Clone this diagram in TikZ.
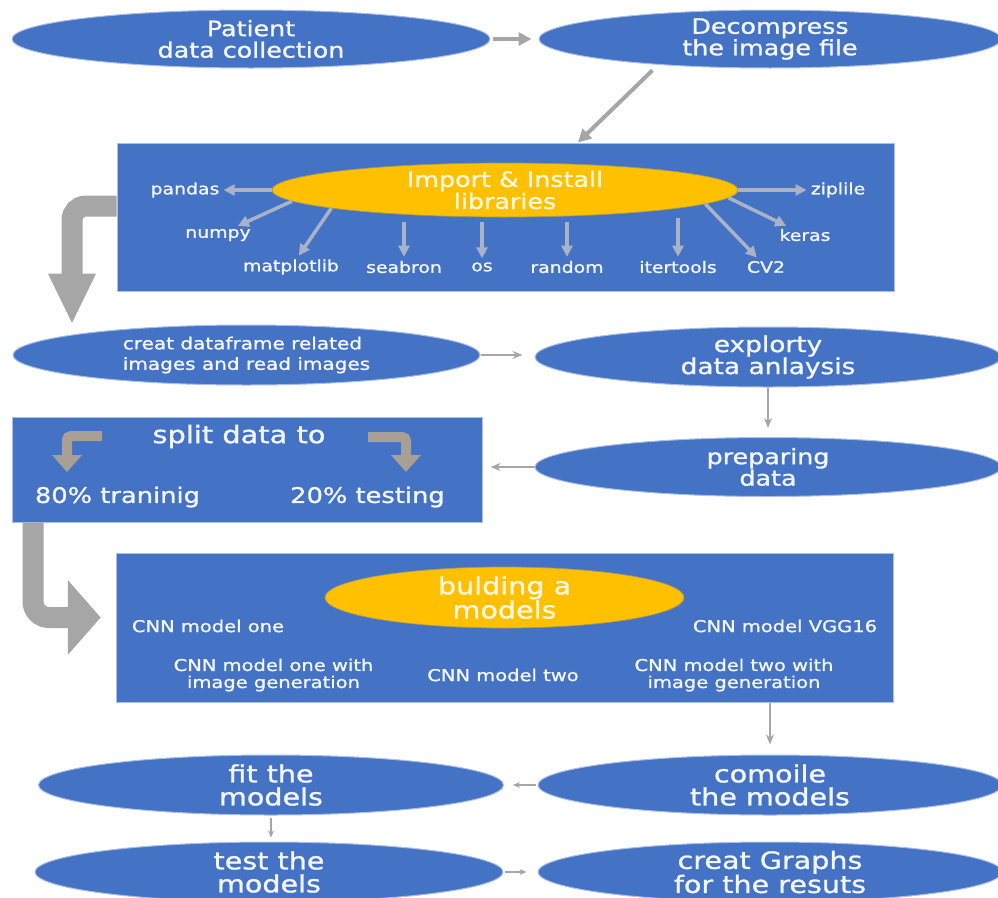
\documentclass[tikz,border=0pt]{standalone}
\usepackage{fontspec}
\setmainfont{DejaVu Sans}[FakeStretch=1.2, FakeBold=1.2, Scale=1.083]
\usetikzlibrary{shapes.geometric,arrows.meta,calc}
\definecolor{boxblue}{HTML}{4472C4}
\definecolor{edgeblue}{HTML}{A9BFE6}
\definecolor{goldy}{HTML}{FFC000}
\definecolor{arrowgray}{HTML}{A6A6A6}
\definecolor{libgray}{HTML}{AAB2C8}
\definecolor{tang}{HTML}{A89F95}
\definecolor{txt}{HTML}{F3F6FC}
\definecolor{ytxt}{HTML}{FFF7E0}
\newcommand{\fs}[2]{\fontsize{#1}{#2}\selectfont}
\begin{document}
\begin{tikzpicture}[x=1pt,y=-1pt,
  blueell/.style={ellipse, fill=boxblue, draw=edgeblue, line width=1pt, inner sep=-6pt, text=txt, align=center},
  yellell/.style={ellipse, fill=goldy, draw=boxblue!50!goldy, line width=0.7pt, inner sep=-6pt, text=ytxt, align=center},
  bluebox/.style={rectangle, fill=boxblue, draw=edgeblue, line width=1pt, inner sep=0pt},
  libtxt/.style={text=txt, inner sep=2pt, font=\fs{14.5}{16}},
  cnntxt/.style={text=txt, inner sep=0pt, align=center, font=\fs{15}{17}},
  plaintxt/.style={text=txt, inner sep=0pt, align=center},
  thinarr/.style={draw=arrowgray, line width=1.6pt, -{Stealth[length=10pt,width=8pt]}},
  smallarr/.style={draw=arrowgray, line width=1.2pt, -{Stealth[length=7pt,width=6pt]}},
  midarr/.style={draw=arrowgray, line width=4.5pt, -{Triangle[length=13pt,width=13pt]}},
  libarr/.style={draw=libgray, line width=3.5pt, shorten >=2pt, -{Triangle[length=11pt,width=11pt]}},
  bigarr/.style={draw=arrowgray, line width=21pt, rounded corners=14pt, -{Triangle[length=51pt,width=44pt]}},
  bigarrb/.style={draw=arrowgray, line width=21pt, rounded corners=16pt, -{Triangle[length=33pt,width=73pt]}},
  tanarr/.style={draw=tang, line width=10pt, rounded corners=4pt, -{Triangle[length=17pt,width=29pt]}},
]
\useasboundingbox (0,0) rectangle (998,897);
\clip (0,0) rectangle (998,897);

% top row
\node[blueell, minimum width=478pt, minimum height=58pt, font=\fs{19.5}{21.5}] (e1) at (251,39) {Patient\\data collection};
\node[blueell, minimum width=462pt, minimum height=58pt, font=\fs{19.5}{21.5}] (e2) at (770,39) {Decompress\\the image file};

% libraries
\node[bluebox, minimum width=777pt, minimum height=148pt] (lib) at (505.5,217) {};
\node[yellell, minimum width=466pt, minimum height=54pt, font=\fs{19.5}{22}] (ylib) at (505,190) {Import \& Install\\libraries};
\node[libtxt] (pandas) at (185,190) {pandas};
\node[libtxt] (numpy) at (218,235) {numpy};
\node[libtxt] (matplotlib) at (291,267) {matplotlib};
\node[libtxt] (seabron) at (404,267) {seabron};
\node[libtxt] (os) at (482,267) {os};
\node[libtxt] (random) at (567,267) {random};
\node[libtxt] (itertools) at (678,267) {itertools};
\node[libtxt] (cv2) at (766,267) {CV2};
\node[libtxt] (keras) at (805,235) {keras};
\node[libtxt] (ziplile) at (838,190) {ziplile};

% middle
\node[blueell, minimum width=467pt, minimum height=60pt, align=left, font=\fs{15.4}{20.5}] (df) at (246.5,355) {creat dataframe related\\images and read images};
\node[blueell, minimum width=466pt, minimum height=60pt, font=\fs{20.3}{22}] (eda) at (768,357) {explorty\\data anlaysis};
\node[blueell, minimum width=466pt, minimum height=59pt, font=\fs{19.5}{21.5}] (prep) at (768,467) {preparing\\data};

% split box
\node[bluebox, minimum width=470pt, minimum height=105pt] (split) at (247,469.5) {};
\node[plaintxt, font=\fs{22.2}{24}] (splitT) at (239,436.5) {split data to};
\node[plaintxt, font=\fs{19.8}{22}] (p80) at (117.5,497) {80\% traninig};
\node[plaintxt, font=\fs{19.8}{22}] (p20) at (367.5,497) {20\% testing};
\coordinate (sa1) at (102,436);
\coordinate (sa2) at (67,472);
\coordinate (sb1) at (368,437);
\coordinate (sb2) at (406,472);

% models box
\node[bluebox, minimum width=777.5pt, minimum height=149pt] (models) at (505,627.5) {};
\node[yellell, minimum width=359pt, minimum height=61pt, font=\fs{22}{21.5}] (ymod) at (504.5,597.5) {bulding a\\models};
\node[cnntxt] (c1) at (208,626) {CNN model one};
\node[cnntxt] (cvgg) at (785,626) {CNN model VGG16};
\node[cnntxt] (c1g) at (273.5,675) {CNN model one with\\image generation};
\node[cnntxt] (c2) at (503,675) {CNN model two};
\node[cnntxt] (c2g) at (734,675) {CNN model two with\\image generation};

% bottom
\node[blueell, minimum width=465pt, minimum height=60pt, font=\fs{22}{23}] (fit) at (271,785) {fit the\\models};
\node[blueell, minimum width=464pt, minimum height=60pt, font=\fs{22}{23}] (comoile) at (770,785) {comoile\\the models};
\node[blueell, minimum width=468pt, minimum height=60pt, font=\fs{22}{23}] (test) at (269,872) {test the\\models};
\node[blueell, minimum width=464pt, minimum height=60pt, font=\fs{22}{23}] (graphs) at (770,872) {creat Graphs\\for the resuts};

% library arrows
\draw[libarr] (ylib.west) -- (pandas);
\draw[libarr] (ylib.183) -- (numpy);
\draw[libarr] (ylib.186) -- (matplotlib);
\draw[libarr] ($(ylib.south -| seabron.north)+(0,5)$) -- (seabron.north);
\draw[libarr] ($(ylib.south -| os.north)+(0,5)$) -- (os.north);
\draw[libarr] ($(ylib.south -| random.north)+(0,5)$) -- (random.north);
\draw[libarr] ($(ylib.south -| itertools.north)+(0,1)$) -- (itertools.north);
\draw[libarr] (ylib.356) -- (cv2);
\draw[libarr] (ylib.358) -- (keras);
\draw[libarr] (ylib.east) -- (ziplile);

% flow arrows
\draw[midarr, shorten >=7pt, shorten <=2pt] (e1) -- (e2);
\draw[midarr, line width=4pt, shorten <=8pt] (e2.193) -- ([xshift=72.5pt]lib.north);
\draw[bigarr] ([yshift=11pt]lib.west) -| ([xshift=-174.5pt]df.north);
\draw[thinarr, shorten >=12pt] (df.east) -- (df.east -| eda.west);
\draw[thinarr, shorten >=9pt] (eda) -- (prep);
\draw[thinarr, shorten >=8pt] (prep.west) -- (prep.west -| split.east);
\draw[tanarr] (sa1) -| (sa2);
\draw[tanarr] (sb1) -| (sb2);
\draw[bigarrb] ([xshift=-214pt]split.south) |- ([xshift=-15pt,yshift=10pt]models.west);
\draw[thinarr, shorten >=10pt] (models.south -| comoile) -- (comoile);
\draw[smallarr, shorten >=9pt, shorten <=2pt] (comoile) -- (fit);
\draw[smallarr, shorten >=4pt, shorten <=2pt] (fit.south) -- (fit.south |- test.north);
\draw[smallarr, shorten >=11pt, shorten <=1pt] (test) -- (graphs);
\end{tikzpicture}
\end{document}
